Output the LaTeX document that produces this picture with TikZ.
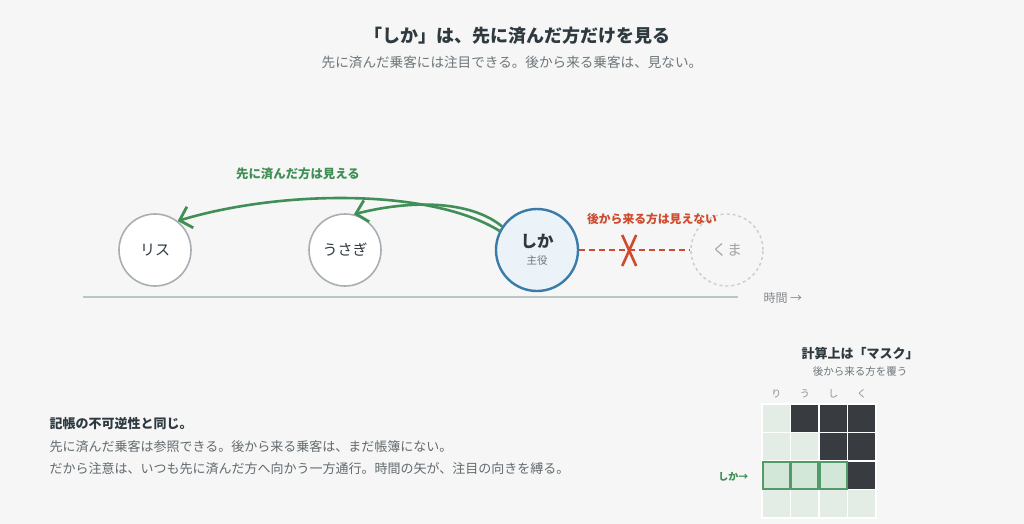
\documentclass[tikz,border=0pt]{standalone}
\usepackage{fontspec}
\usepackage{xcolor}
\usepackage{tikz}
\usetikzlibrary{arrows.meta,calc,positioning}
\newfontfamily\jpfont{Noto Sans CJK JP}
\definecolor{bgpaper}{HTML}{F5F6F5}
\definecolor{inkdark}{HTML}{2E3A40}
\definecolor{inkgray}{HTML}{6E767B}
\definecolor{ringgray}{HTML}{A8AFB4}
\definecolor{shikablue}{HTML}{3A7BAA}
\definecolor{shikafill}{HTML}{EBF3F9}
\definecolor{seegreen}{HTML}{3F8F57}
\definecolor{blockred}{HTML}{CF4A2E}
\definecolor{ghostgray}{HTML}{C9CDD1}
\definecolor{maskdark}{HTML}{383C41}
\definecolor{masklight}{HTML}{E3EDE6}
\definecolor{maskhit}{HTML}{D2E7D8}

\newcommand{\fs}[1]{\fontsize{#1}{#1}\selectfont}

\begin{document}
\begin{tikzpicture}[x=1pt,y=-1pt,font=\jpfont,
    animal/.style={circle,draw=ringgray,line width=1.6pt,fill=white,
      minimum size=72pt,inner sep=0pt,text=inkdark,font=\jpfont\fs{15}},
    focus/.style={circle,draw=shikablue,line width=2.4pt,fill=shikafill,
      minimum size=82pt,inner sep=0pt,align=center,text=inkdark},
    ghost/.style={circle,draw=ghostgray,dashed,line width=1.4pt,
      minimum size=72pt,inner sep=0pt,text=ghostgray!80!black,font=\jpfont\fs{15}},
    seen/.style={draw=seegreen,line width=2.6pt,
      -{Straight Barb[length=11pt,width=22pt,line width=2.8pt]}},
    cell/.style={draw=white,line width=1.5pt,minimum size=28.5pt,inner sep=0pt},
    hit/.style={draw=seegreen!90,line width=2pt,fill=maskhit,
      minimum size=27pt,inner sep=0pt}]
    \fill[bgpaper] (0,0) rectangle (1024,524);
    \useasboundingbox (0,0) rectangle (1024,524);

    % heading
    \node[font=\jpfont\bfseries\fs{18},text=inkdark] (title) at (517,36)
      {「しか」は、先に済んだ方だけを見る};
    \node[font=\jpfont\fs{13.6},text=inkgray] (subtitle) at (512,62)
      {先に済んだ乗客には注目できる。後から来る乗客は、見ない。};

    % timeline
    \coordinate (tstart) at (83,297);
    \coordinate (tend) at (738,297);
    \draw[ghostgray!90!seegreen,line width=1.6pt] (tstart) -- (tend);
    \node[anchor=west,font=\jpfont\fs{12},text=inkgray!85] (timelbl)
      at (760,298) {時間 →};

    % passengers
    \node[animal] (risu) at (155,250) {リス};
    \node[animal] (usagi) at (345,250) {うさぎ};
    \node[focus] (shika) at (537,250)
      {{\bfseries\fs{16.5}しか}\\[5pt]{\fs{10.5}\color{inkgray}主役}};
    \node[ghost] (kuma) at (727,250) {くま};

    % looking back
    \draw[seen] (shika.153) .. controls (430,188) and (280,190) .. (risu.52);
    \draw[seen] (shika.146) .. controls (470,200) and (410,200) .. (usagi.76);
    \node[font=\jpfont\bfseries\fs{12.4},text=seegreen] (seelbl) at (298,174)
      {先に済んだ方は見える};

    % not looking ahead
    \draw[blockred,dashed,line width=2.4pt,dash pattern=on 6pt off 4pt]
      (shika) -- (kuma);
    \coordinate (cut) at ($(shika.east)!0.45!(kuma.west)$);
    \draw[blockred,line width=2.6pt] ($(cut)+(-7,-15)$) -- ($(cut)+(7,16)$);
    \draw[blockred,line width=2.6pt] ($(cut)+(7,-15)$) -- ($(cut)+(-7,16)$);
    \node[font=\jpfont\bfseries\fs{11.8},text=blockred] (blocklbl) at (652,219)
      {後から来る方は見えない};

    % note
    \node[anchor=west,font=\jpfont\bfseries\fs{13},text=inkdark] (notehead)
      at (46,424) {記帳の不可逆性と同じ。};
    \node[anchor=west,font=\jpfont\fs{13},text=inkgray!90!black,align=left]
      (notebody) at (46,458)
      {先に済んだ乗客は参照できる。後から来る乗客は、まだ帳簿にない。\\[9pt]
       だから注意は、いつも先に済んだ方へ向かう一方通行。時間の矢が、注目の向きを縛る。};

    % mask
    \node[font=\jpfont\bfseries\fs{13},text=inkdark] (masktitle) at (860,353)
      {計算上は「マスク」};
    \node[font=\jpfont\fs{10.5},text=inkgray] (masksub) at (860,372)
      {後から来る方を覆う};
    \foreach \c/\k in {0/り,1/う,2/し,3/く}
      \node[font=\jpfont\fs{10},text=inkgray!80] (col\c) at (776.25+28.5*\c,394) {\k};
    \foreach \r in {0,...,3}
      \foreach \c in {0,...,3} {
        \ifnum\c>\r
          \node[cell,fill=maskdark] (m\r\c) at (776.25+28.5*\c,418.25+28.5*\r) {};
        \else
          \node[cell,fill=masklight] (m\r\c) at (776.25+28.5*\c,418.25+28.5*\r) {};
        \fi
      }
    \foreach \c in {0,1,2}
      \node[hit] at (m2\c) {};
    \node[anchor=east,font=\jpfont\bfseries\fs{10},text=seegreen] (rowlbl)
      at (752,477) {しか→};
  \end{tikzpicture}
\end{document}
